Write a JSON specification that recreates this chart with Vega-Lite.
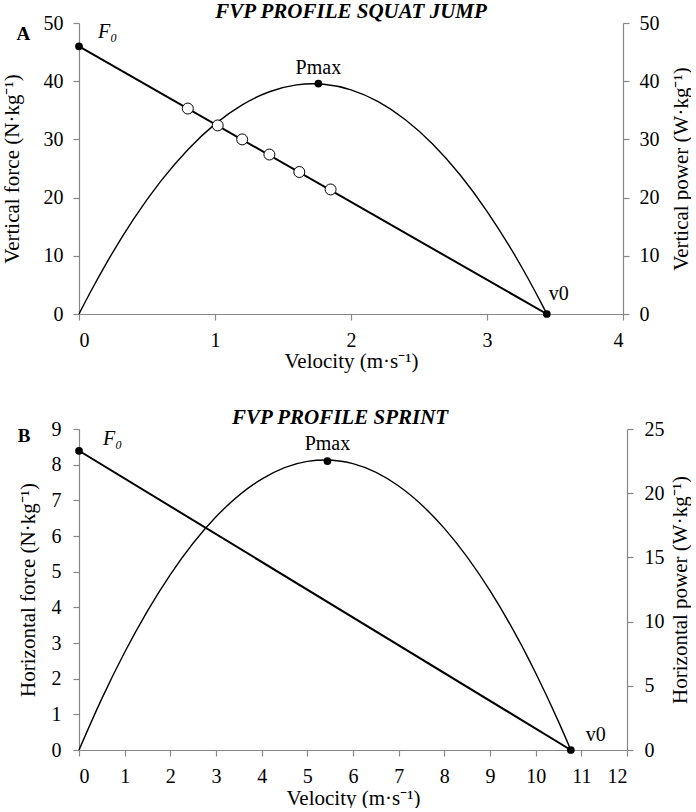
{
  "$schema": "https://vega.github.io/schema/vega-lite/v6.json",
  "padding": {"left": 1, "top": 1, "right": 0, "bottom": 0},
  "spacing": 36,
  "config": {
    "font": "Liberation Serif",
    "view": {"stroke": null},
    "axis": {
      "grid": false,
      "domainColor": "#878787",
      "tickColor": "#878787",
      "labelColor": "#000000",
      "titleColor": "#000000",
      "labelFont": "Liberation Serif",
      "titleFont": "Liberation Serif",
      "labelFontSize": 20,
      "titleFontSize": 21,
      "titleFontWeight": "normal",
      "tickSize": 6,
      "labelPadding": 10,
      "domainWidth": 1.2,
      "tickWidth": 1.2
    },
    "text": {"font": "Liberation Serif", "fontSize": 20, "color": "#000000"}
  },
  "datasets": {
    "forceA": [{"v": 0, "F": 46}, {"v": 3.44, "F": 0}],
    "trialsA": [
      {"v": 0.80, "F": 35.3}, {"v": 1.02, "F": 32.4}, {"v": 1.20, "F": 30.0},
      {"v": 1.40, "F": 27.4}, {"v": 1.62, "F": 24.4}, {"v": 1.85, "F": 21.4}
    ],
    "keyA": [{"v": 0, "F": 46, "label": "F₀"}, {"v": 3.44, "F": 0, "label": "v0"}],
    "panelA": [{"v": -0.41, "F": 47.1, "label": "A"}],
    "powerA": [
      {"v": 0, "P": 0}, {"v": 0.1, "P": 4.47}, {"v": 0.2, "P": 8.67}, {"v": 0.4, "P": 16.26},
      {"v": 0.6, "P": 22.79}, {"v": 0.8, "P": 28.24}, {"v": 1.0, "P": 32.63}, {"v": 1.2, "P": 35.94},
      {"v": 1.4, "P": 38.19}, {"v": 1.6, "P": 39.37}, {"v": 1.72, "P": 39.56}, {"v": 1.8, "P": 39.47},
      {"v": 2.0, "P": 38.51}, {"v": 2.2, "P": 36.48}, {"v": 2.4, "P": 33.38}, {"v": 2.6, "P": 29.21},
      {"v": 2.8, "P": 23.96}, {"v": 3.0, "P": 17.65}, {"v": 3.2, "P": 10.27}, {"v": 3.3, "P": 6.18},
      {"v": 3.4, "P": 1.82}, {"v": 3.44, "P": 0}
    ],
    "pmaxA": [{"v": 1.76, "P": 39.6, "label": "Pmax"}],
    "forceB": [{"v": 0, "F": 8.39}, {"v": 10.77, "F": 0}],
    "keyB": [{"v": 0, "F": 8.39, "label": "F₀"}, {"v": 10.77, "F": 0, "label": "v0"}],
    "panelB": [{"v": -1.2, "F": 8.64, "label": "B"}],
    "powerB": [
      {"v": 0, "P": 0}, {"v": 0.5, "P": 4.0}, {"v": 1, "P": 7.61}, {"v": 2, "P": 13.66},
      {"v": 3, "P": 18.16}, {"v": 4, "P": 21.10}, {"v": 5, "P": 22.48}, {"v": 5.4, "P": 22.59},
      {"v": 6, "P": 22.30}, {"v": 7, "P": 20.56}, {"v": 8, "P": 17.26}, {"v": 9, "P": 12.41},
      {"v": 10, "P": 6.0}, {"v": 10.5, "P": 2.21}, {"v": 10.77, "P": 0}
    ],
    "pmaxB": [{"v": 5.44, "P": 22.5, "label": "Pmax"}]
  },
  "vconcat": [
    {
      "width": 544,
      "height": 291,
      "title": {"text": "FVP PROFILE SQUAT JUMP", "font": "Liberation Serif", "fontSize": 21, "fontStyle": "italic", "fontWeight": "bold", "color": "#000000", "anchor": "middle", "offset": -9},
      "resolve": {"scale": {"y": "independent"}},
      "layer": [
        {
          "encoding": {
            "x": {"field": "v", "type": "quantitative", "scale": {"domain": [0, 4]}, "axis": {"values": [0, 1, 2, 3, 4], "format": "d", "title": "Velocity (m·s⁻¹)", "titlePadding": 0}},
            "y": {"field": "P", "type": "quantitative", "scale": {"domain": [0, 50]}, "axis": {"orient": "right", "values": [0, 10, 20, 30, 40, 50], "title": "Vertical power (W·kg⁻¹)", "titleAngle": -90, "titleBaseline": "alphabetic", "titleX": 64}}
          },
          "layer": [
            {"data": {"name": "powerA"}, "mark": {"type": "line", "color": "#000000", "strokeWidth": 1.4, "interpolate": "monotone"}},
            {"data": {"name": "pmaxA"}, "mark": {"type": "point", "filled": true, "color": "#000000", "size": 60, "opacity": 1}},
            {"data": {"name": "pmaxA"}, "mark": {"type": "text", "dy": -10, "baseline": "alphabetic", "align": "center"}, "encoding": {"text": {"field": "label"}}}
          ]
        },
        {
          "encoding": {
            "x": {"field": "v", "type": "quantitative", "scale": {"domain": [0, 4]}},
            "y": {"field": "F", "type": "quantitative", "scale": {"domain": [0, 50]}, "axis": {"orient": "left", "values": [0, 10, 20, 30, 40, 50], "title": "Vertical force (N·kg⁻¹)", "titleAngle": -90, "titleBaseline": "alphabetic", "titleX": -61}}
          },
          "layer": [
            {"data": {"name": "forceA"}, "mark": {"type": "line", "color": "#000000", "strokeWidth": 2}},
            {"data": {"name": "trialsA"}, "mark": {"type": "point", "filled": true, "fill": "#ffffff", "stroke": "#000000", "strokeWidth": 1, "size": 120, "opacity": 1}},
            {"data": {"name": "keyA"}, "mark": {"type": "point", "filled": true, "color": "#000000", "size": 60, "opacity": 1}},
            {"data": {"name": "keyA"}, "transform": [{"filter": "datum.label == 'F₀'"}], "mark": {"type": "text", "dx": 19, "dy": -8, "align": "left", "baseline": "alphabetic", "fontStyle": "italic"}, "encoding": {"text": {"field": "label"}}},
            {"data": {"name": "keyA"}, "transform": [{"filter": "datum.label == 'v0'"}], "mark": {"type": "text", "dx": 2, "dy": -14, "align": "left", "baseline": "alphabetic"}, "encoding": {"text": {"field": "label"}}},
            {"data": {"name": "panelA"}, "mark": {"type": "text", "align": "center", "baseline": "alphabetic", "fontWeight": "bold", "fontSize": 19}, "encoding": {"text": {"field": "label"}}}
          ]
        }
      ]
    },
    {
      "width": 548,
      "height": 321,
      "title": {"text": "FVP PROFILE SPRINT", "font": "Liberation Serif", "fontSize": 21, "fontStyle": "italic", "fontWeight": "bold", "color": "#000000", "anchor": "middle", "dx": -13, "offset": -9},
      "resolve": {"scale": {"y": "independent"}},
      "layer": [
        {
          "encoding": {
            "x": {"field": "v", "type": "quantitative", "scale": {"domain": [0, 12]}, "axis": {"values": [0, 1, 2, 3, 4, 5, 6, 7, 8, 9, 10, 11, 12], "format": "d", "title": "Velocity (m·s⁻¹)", "titlePadding": 1}},
            "y": {"field": "P", "type": "quantitative", "scale": {"domain": [0, 25]}, "axis": {"orient": "right", "values": [0, 5, 10, 15, 20, 25], "title": "Horizontal power (W·kg⁻¹)", "titleAngle": -90, "titleBaseline": "alphabetic", "titleX": 59, "labelPadding": 11}}
          },
          "layer": [
            {"data": {"name": "powerB"}, "mark": {"type": "line", "color": "#000000", "strokeWidth": 1.4, "interpolate": "monotone"}},
            {"data": {"name": "pmaxB"}, "mark": {"type": "point", "filled": true, "color": "#000000", "size": 60, "opacity": 1}},
            {"data": {"name": "pmaxB"}, "mark": {"type": "text", "dy": -11, "baseline": "alphabetic", "align": "center"}, "encoding": {"text": {"field": "label"}}}
          ]
        },
        {
          "encoding": {
            "x": {"field": "v", "type": "quantitative", "scale": {"domain": [0, 12]}},
            "y": {"field": "F", "type": "quantitative", "scale": {"domain": [0, 9]}, "axis": {"orient": "left", "values": [0, 1, 2, 3, 4, 5, 6, 7, 8, 9], "title": "Horizontal force (N·kg⁻¹)", "titleAngle": -90, "titleBaseline": "alphabetic", "titleX": -45, "labelPadding": 12}}
          },
          "layer": [
            {"data": {"name": "forceB"}, "mark": {"type": "line", "color": "#000000", "strokeWidth": 2}},
            {"data": {"name": "keyB"}, "mark": {"type": "point", "filled": true, "color": "#000000", "size": 60, "opacity": 1}},
            {"data": {"name": "keyB"}, "transform": [{"filter": "datum.label == 'F₀'"}], "mark": {"type": "text", "dx": 24, "dy": -6, "align": "left", "baseline": "alphabetic", "fontStyle": "italic"}, "encoding": {"text": {"field": "label"}}},
            {"data": {"name": "keyB"}, "transform": [{"filter": "datum.label == 'v0'"}], "mark": {"type": "text", "dx": 15, "dy": -9, "align": "left", "baseline": "alphabetic"}, "encoding": {"text": {"field": "label"}}},
            {"data": {"name": "panelB"}, "mark": {"type": "text", "align": "center", "baseline": "alphabetic", "fontWeight": "bold", "fontSize": 19}, "encoding": {"text": {"field": "label"}}}
          ]
        }
      ]
    }
  ]
}
